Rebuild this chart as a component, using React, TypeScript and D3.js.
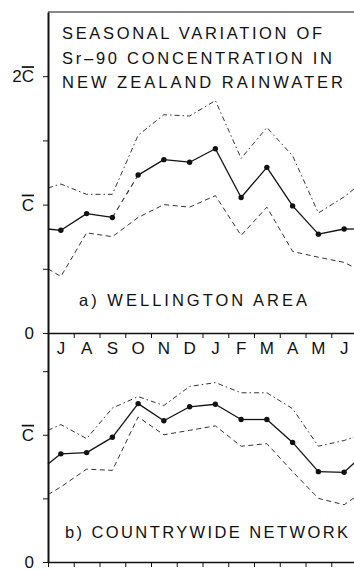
import React, { useRef, useEffect } from 'react';
import * as d3 from 'd3';

// months July..June
const months = ['J', 'A', 'S', 'O', 'N', 'D', 'J', 'F', 'M', 'A', 'M', 'J'];

// a) Wellington area, in units of mean C
const wellingtonMean = [0.80, 0.93, 0.90, 1.23, 1.35, 1.33, 1.435, 1.055, 1.29, 0.99, 0.77, 0.81];
const wellingtonUpper = [1.16, 1.08, 1.08, 1.54, 1.70, 1.69, 1.81, 1.36, 1.60, 1.38, 0.935, 1.06];
const wellingtonLower = [0.44, 0.78, 0.75, 0.90, 1.00, 0.98, 1.07, 0.76, 0.98, 0.635, 0.59, 0.55];
// values where the curves meet the left / right edge of the frame
const wellingtonMeanEdges = [0.81, 0.81];
const wellingtonUpperEdges = [1.13, 1.14];
const wellingtonLowerEdges = [0.50, 0.50];
// mean segment drawn dashed (from month index -> next)
const wellingtonDashedSegments = [2];

// b) countrywide network
const countryMean = [0.85, 0.86, 0.98, 1.245, 1.11, 1.22, 1.24, 1.12, 1.12, 0.94, 0.71, 0.705];
const countryUpper = [1.08, 0.97, 1.21, 1.30, 1.23, 1.38, 1.41, 1.33, 1.33, 1.205, 0.91, 0.955];
const countryLower = [0.59, 0.73, 0.72, 1.14, 1.00, 1.035, 1.07, 0.91, 0.93, 0.71, 0.50, 0.45];
const countryMeanEdges = [0.77, 0.80];
const countryUpperEdges = [1.035, 0.99];
const countryLowerEdges = [0.53, 0.52];
const countryDashedSegments: number[] = [];

const topTicks = [0, 0.5, 1, 1.5, 2];
const topTickLabels = ['0', '', 'C', '', '2C'];
const bottomTicks = [0, 0.5, 1, 1.5];
const bottomTickLabels = ['0', '', 'C', ''];

const titleLines = ['SEASONAL VARIATION OF', 'Sr\u201390 CONCENTRATION IN', 'NEW ZEALAND RAINWATER'];
const panelLabels = ['a) WELLINGTON AREA', 'b) COUNTRYWIDE NETWORK'];

const FONT = '"Liberation Sans", Arial, Helvetica, sans-serif';

const App = () => {
  const svgRef = useRef<SVGSVGElement>(null);

  useEffect(() => {
    const svg = d3.select(svgRef.current);
    svg.selectAll('*').remove();

    const W = 354;
    const H = 571;
    const left = 48;

    const x = d3.scaleLinear().domain([0, 12]).range([left, 357]);
    const yTop = d3.scaleLinear().domain([0, 2.5]).range([333, 12]);
    const yBot = d3.scaleLinear().domain([0, 1.8]).range([562, 333]);

    svg.append('rect').attr('width', W).attr('height', H).attr('fill', '#fff');

    const withEdges = (vals: number[], edges: number[]) => [
      { m: 0, v: edges[0] },
      ...vals.map((v, i) => ({ m: i + 0.5, v })),
      { m: 12, v: edges[1] },
    ];

    const drawPanel = (
      y: d3.ScaleLinear<number, number>,
      mean: number[], meanEdges: number[],
      upper: number[], upperEdges: number[],
      lower: number[], lowerEdges: number[],
      dashedSegs: number[],
    ) => {
      const g = svg.append('g');
      const line = d3.line<{ m: number; v: number }>()
        .x(d => x(d.m))
        .y(d => y(d.v));

      g.append('path')
        .attr('d', line(withEdges(upper, upperEdges)))
        .attr('fill', 'none')
        .attr('stroke', '#333')
        .attr('stroke-width', 1)
        .attr('stroke-dasharray', '5,3,1.5,3');

      g.append('path')
        .attr('d', line(withEdges(lower, lowerEdges)))
        .attr('fill', 'none')
        .attr('stroke', '#333')
        .attr('stroke-width', 1)
        .attr('stroke-dasharray', '5,3.5');

      // mean curve, split into segments so some can be dashed
      const pts = withEdges(mean, meanEdges);
      for (let i = 0; i < pts.length - 1; i++) {
        const monthIdx = i - 1;
        const dashed = dashedSegs.includes(monthIdx);
        g.append('path')
          .attr('d', line([pts[i], pts[i + 1]]))
          .attr('fill', 'none')
          .attr('stroke', dashed ? '#333' : '#111')
          .attr('stroke-width', dashed ? 1.1 : 1.3)
          .attr('stroke-dasharray', dashed ? '5,4' : null);
      }

      g.selectAll('circle')
        .data(mean)
        .join('circle')
        .attr('cx', (_, i) => x(i + 0.5))
        .attr('cy', d => y(d))
        .attr('r', 2.7)
        .attr('fill', '#111');
    };

    drawPanel(yTop, wellingtonMean, wellingtonMeanEdges, wellingtonUpper, wellingtonUpperEdges,
      wellingtonLower, wellingtonLowerEdges, wellingtonDashedSegments);
    drawPanel(yBot, countryMean, countryMeanEdges, countryUpper, countryUpperEdges,
      countryLower, countryLowerEdges, countryDashedSegments);

    // frame: top border
    svg.append('line')
      .attr('x1', left).attr('x2', W)
      .attr('y1', yTop(2.5)).attr('y2', yTop(2.5))
      .attr('stroke', '#111').attr('stroke-width', 1.2);

    // y axes
    const styleAxis = (sel: any, width: number) => {
      sel.select('.domain').attr('stroke', '#111').attr('stroke-width', width);
      sel.selectAll('.tick line').attr('stroke', '#111').attr('stroke-width', 1);
    };

    const yAxisTop = svg.append('g')
      .attr('transform', `translate(${left},0)`)
      .call(d3.axisLeft(yTop).tickValues(topTicks).tickSize(5).tickSizeOuter(0).tickFormat(() => ''));
    styleAxis(yAxisTop, 2);

    const yAxisBot = svg.append('g')
      .attr('transform', `translate(${left},0)`)
      .call(d3.axisLeft(yBot).tickValues(bottomTicks).tickSize(5).tickSizeOuter(0).tickFormat(() => ''));
    styleAxis(yAxisBot, 2);

    // x axes (between panels and at bottom)
    const xTicks = d3.range(0, 13);
    [yTop(0), yBot(0)].forEach(yy => {
      const ax = svg.append('g')
        .attr('transform', `translate(0,${yy})`)
        .call(d3.axisBottom(x).tickValues(xTicks).tickSize(5).tickSizeOuter(0).tickFormat(() => ''));
      styleAxis(ax, 1.5);
    });

    // y tick labels with overlined C
    const addLabels = (y: d3.ScaleLinear<number, number>, ticks: number[], labels: string[]) => {
      ticks.forEach((t, i) => {
        const lab = labels[i];
        if (!lab) return;
        const txt = svg.append('text')
          .attr('x', 34)
          .attr('y', y(t) + 6)
          .attr('text-anchor', 'end')
          .style('font-family', FONT)
          .style('font-size', '17px')
          .attr('fill', '#111');
        if (lab.endsWith('C')) {
          const pre = lab.slice(0, -1);
          if (pre) txt.append('tspan').text(pre);
          txt.append('tspan').style('text-decoration', 'overline').text('C');
        } else {
          txt.text(lab);
        }
      });
    };
    addLabels(yTop, topTicks, topTickLabels);
    addLabels(yBot, bottomTicks.slice(0, 3), bottomTickLabels.slice(0, 3));

    // month labels
    svg.append('g')
      .selectAll('text')
      .data(months)
      .join('text')
      .attr('x', (_, i) => x(i + 0.5))
      .attr('y', 354)
      .attr('text-anchor', 'middle')
      .style('font-family', FONT)
      .style('font-size', '17px')
      .attr('fill', '#111')
      .text(d => d);

    // title
    const titleY = [39, 63.5, 88];
    const titleW = [260, 270, 281];
    titleLines.forEach((t, i) => {
      svg.append('text')
        .attr('x', 62)
        .attr('y', titleY[i])
        .attr('textLength', titleW[i])
        .attr('lengthAdjust', 'spacing')
        .style('font-family', FONT)
        .style('font-size', '16.5px')
        .attr('fill', '#111')
        .text(t);
    });

    // panel labels
    const labelX = [79, 65];
    const labelY = [306, 538];
    const labelW = [228, 283];
    panelLabels.forEach((t, i) => {
      svg.append('text')
        .attr('x', labelX[i])
        .attr('y', labelY[i])
        .attr('textLength', labelW[i])
        .attr('lengthAdjust', 'spacing')
        .style('font-family', FONT)
        .style('font-size', '16.5px')
        .attr('fill', '#111')
        .text(t);
    });
  }, []);

  return (
    <svg
      ref={svgRef}
      width={354}
      height={571}
      style={{ position: 'absolute', left: 0, top: 0, display: 'block' }}
    />
  );
};

export default App;
